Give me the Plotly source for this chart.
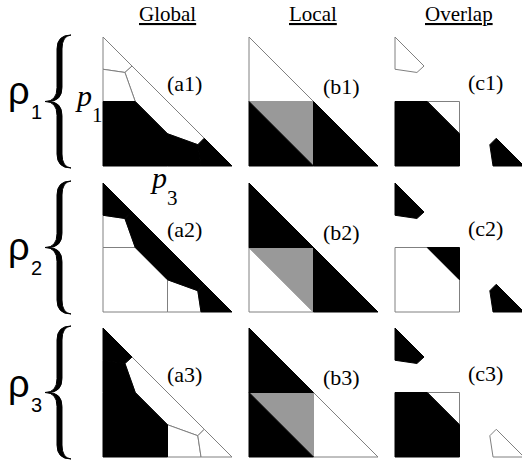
import plotly.graph_objects as go

W, H = 522, 464

# ---- Global partition of the (p3, p1) simplex: six cells, vertices as (p3, p1)
cell_top = [(0, 1), (0, 0.75), (0.17, 0.725), (0.225, 0.775)]
cell_band = [(0.225, 0.775), (0.17, 0.725), (0.25, 0.5), (0.5, 0.25), (0.735, 0.165), (0.785, 0.215)]
cell_left = [(0, 0.75), (0.17, 0.725), (0.25, 0.5), (0, 0.5)]
cell_square = [(0, 0.5), (0.25, 0.5), (0.5, 0.25), (0.5, 0), (0, 0)]
cell_bottom = [(0.5, 0), (0.5, 0.25), (0.735, 0.165), (0.76, 0)]
cell_corner = [(0.76, 0), (0.735, 0.165), (0.785, 0.215), (1, 0)]

# ---- Local partition: top triangle, split square, right triangle
loc_top = [(0, 1), (0, 0.5), (0.5, 0.5)]
loc_sq_up = [(0.5, 0), (0.5, 0.5), (0, 0.5)]
loc_sq_low = [(0, 0), (0.5, 0), (0, 0.5)]
loc_right = [(0.5, 0), (1, 0), (0.5, 0.5)]

# ---- Overlap pieces
ovl_top = cell_top
ovl_sq_in = cell_square
ovl_sq_corner = [(0.25, 0.5), (0.5, 0.5), (0.5, 0.25)]
ovl_corner = cell_corner

global_cells = [cell_top, cell_band, cell_left, cell_square, cell_bottom, cell_corner]
local_cells = [loc_top, loc_sq_up, loc_sq_low, loc_right]
overlap_cells = [ovl_top, ovl_sq_in, ovl_sq_corner, ovl_corner]

# shade per row (rho_1, rho_2, rho_3): w = white, g = grey, k = black
global_shade = [
    ["w", "w", "w", "k", "k", "k"],
    ["k", "k", "w", "w", "w", "k"],
    ["k", "w", "k", "k", "w", "w"],
]
local_shade = [
    ["w", "g", "k", "k"],
    ["k", "g", "w", "k"],
    ["k", "g", "k", "w"],
]
overlap_shade = [
    ["w", "k", "w", "k"],
    ["k", "w", "k", "k"],
    ["k", "k", "w", "w"],
]

column_titles = ["Global", "Local", "Overlap"]
column_letters = ["a", "b", "c"]
row_labels = ["1", "2", "3"]

# ---- layout geometry (pixels)
PANEL = 129
PAD = 2
col_x0 = [103, 249, 395]
row_top = [37, 183, 328]
label_pos = [(0.63, 0.64), (0.72, 0.62), (0.70, 0.65)]

FILL = {"w": "#ffffff", "g": "#999999", "k": "#000000"}
EDGE = {"w": "#808080", "g": "#999999", "k": "#000000"}
ORDER = {"w": 0, "g": 1, "k": 2}

fig = go.Figure()
layout_axes = {}
annotations = []

columns = [
    (global_cells, global_shade),
    (local_cells, local_shade),
    (overlap_cells, overlap_shade),
]

for r in range(3):
    for c in range(3):
        k = r * 3 + c + 1
        suffix = "" if k == 1 else str(k)
        x0 = col_x0[c]
        y_top = row_top[r]
        y_bot = y_top + PANEL
        x_right = min(W, x0 + PANEL + PAD)
        layout_axes["xaxis" + suffix] = dict(
            domain=[(x0 - PAD) / W, x_right / W],
            range=[-PAD / PANEL, (x_right - x0) / PANEL],
            visible=False, fixedrange=True, anchor="y" + suffix,
        )
        layout_axes["yaxis" + suffix] = dict(
            domain=[1 - (y_bot + PAD) / H, 1 - (y_top - PAD) / H],
            range=[-PAD / PANEL, 1 + PAD / PANEL],
            visible=False, fixedrange=True, anchor="x" + suffix,
        )
        cells, shades = columns[c]
        items = sorted(zip(cells, shades[r]), key=lambda t: ORDER[t[1]])
        for poly, s in items:
            xs = [p[0] for p in poly] + [poly[0][0]]
            ys = [p[1] for p in poly] + [poly[0][1]]
            fig.add_trace(go.Scatter(
                x=xs, y=ys, mode="lines", fill="toself",
                fillcolor=FILL[s], line=dict(color=EDGE[s], width=1),
                hoverinfo="skip", showlegend=False,
                xaxis="x" + suffix, yaxis="y" + suffix,
            ))
        lx, ly = label_pos[c]
        annotations.append(dict(
            text=f"({column_letters[c]}{row_labels[r]})",
            x=lx, y=ly, xref="x" + suffix, yref="y" + suffix,
            showarrow=False, xanchor="center", yanchor="middle",
            font=dict(family="Liberation Serif", size=22, color="black"),
        ))


def px(x):
    return x / W


def py(y):
    return 1 - y / H


def paper_text(text, x, y, size, family="Liberation Serif", xanchor="center"):
    return dict(text=text, x=px(x), y=py(y), xref="paper", yref="paper",
                showarrow=False, xanchor=xanchor, yanchor="middle",
                font=dict(family=family, size=size, color="black"))


# column headers
for c, title in enumerate(column_titles):
    annotations.append(paper_text(f"<u>{title}</u>", col_x0[c] + 64, 14, 21))

# axis names on the first panels
annotations.append(paper_text("<i>p</i>", 83, 96, 30))
annotations.append(paper_text("1", 90, 115, 21, xanchor="left"))
annotations.append(paper_text("<i>p</i>", 158, 177, 30))
annotations.append(paper_text("3", 165, 198, 21, xanchor="left"))

# rho labels and braces
rho_offset = [54, 64, 56]
shapes = []
for r in range(3):
    y_top = row_top[r]
    y0, y1 = y_top - 2, y_top + PANEL + 2
    ym = (y0 + y1) / 2
    annotations.append(paper_text("ρ", 19, y_top + rho_offset[r], 38, family="Liberation Sans"))
    annotations.append(paper_text(row_labels[r], 29, y_top + rho_offset[r] + 21, 20,
                                  family="Liberation Sans", xanchor="left"))
    xs, w, xt, xe, rr = 59.5, 5.0, 45.0, 71.0, 14.0
    xl, xr = xs - w / 2, xs + w / 2
    pts = [
        ("M", [(xe, y0)]),
        ("Q", [(xl, y0), (xl, y0 + rr)]),
        ("L", [(xl, ym - rr)]),
        ("Q", [(xl, ym), (xt, ym)]),
        ("Q", [(xl, ym), (xl, ym + rr)]),
        ("L", [(xl, y1 - rr)]),
        ("Q", [(xl, y1), (xe, y1)]),
        ("Q", [(xr, y1 - 1), (xr, y1 - rr)]),
        ("L", [(xr, ym + rr)]),
        ("Q", [(xr, ym), (xt + 3, ym)]),
        ("Q", [(xr, ym), (xr, ym - rr)]),
        ("L", [(xr, y0 + rr)]),
        ("Q", [(xr, y0 + 1), (xe, y0)]),
    ]
    path = " ".join(cmd + " " + " ".join(f"{px(a):.5f},{py(b):.5f}" for a, b in p) for cmd, p in pts) + " Z"
    shapes.append(dict(type="path", path=path, xref="paper", yref="paper",
                       fillcolor="black", line=dict(color="black", width=1)))

fig.update_layout(
    width=W, height=H, margin=dict(l=0, r=0, t=0, b=0),
    paper_bgcolor="white", plot_bgcolor="white",
    annotations=annotations, shapes=shapes, showlegend=False,
    **layout_axes,
)

fig.write_html("out.html", config={"displayModeBar": False})
